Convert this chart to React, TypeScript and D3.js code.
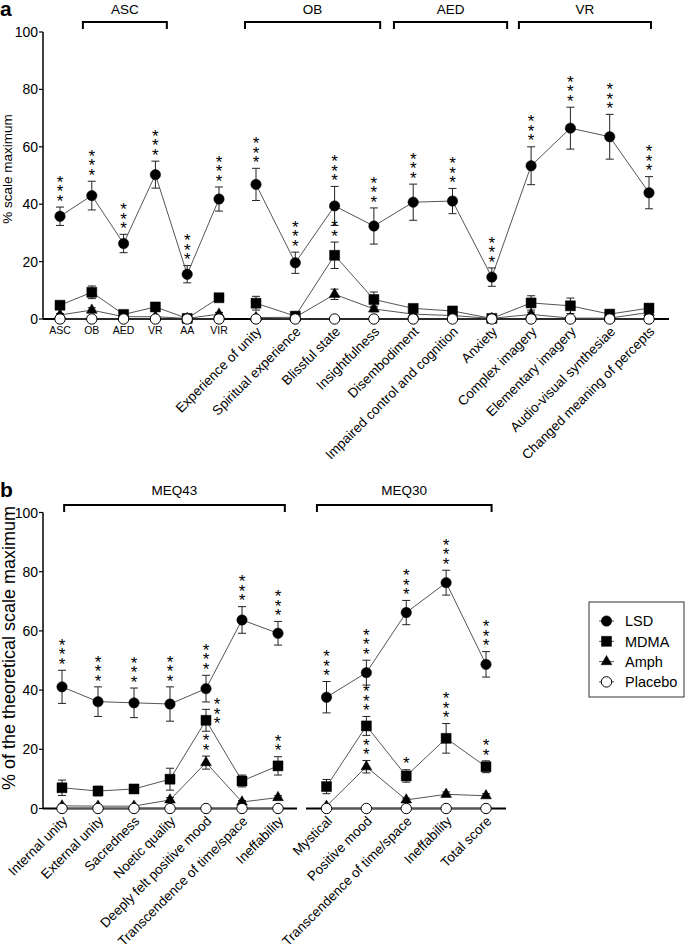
import React from 'react';
import * as d3 from 'd3';

const W = 685, H = 947;
const FONT = "'Liberation Sans', Arial, Helvetica, sans-serif";

// ---------- Panel a data ----------
const catsA1 = ['ASC', 'OB', 'AED', 'VR', 'AA', 'VIR'];
const catsA2 = ['Experience of unity', 'Spiritual experience', 'Blissful state', 'Insightfulness', 'Disembodiment', 'Impaired control and cognition', 'Anxiety', 'Complex imagery', 'Elementary imagery', 'Audio-visual synthesiae', 'Changed meaning of percepts'];
const lsdA = [35.8, 43, 26.3, 50.3, 15.6, 41.8, 46.9, 19.6, 39.4, 32.4, 40.7, 41.1, 14.6, 53.4, 66.5, 63.5, 44];
const lsdAErr = [3.2, 5, 3.2, 4.7, 3, 4.2, 5.6, 3.7, 6.8, 6.3, 6.3, 4.4, 3.2, 6.6, 7.3, 7.8, 5.6];
const mdmaA = [4.8, 9.3, 1.6, 4.2, 0.2, 7.4, 5.5, 1, 22.2, 6.8, 3.7, 2.8, 0.2, 5.6, 4.6, 1.7, 3.8];
const mdmaAErr = [0.8, 2.2, 0.5, 0.8, 0.2, 1, 2.4, 0.5, 4.6, 2.6, 1, 0.8, 0.2, 2.5, 2.7, 0.6, 1];
const amphA = [1.4, 3.1, 0.8, 0.8, 0.2, 1.7, 0.5, 0.6, 8.6, 3.5, 1.7, 1.2, 0.2, 1.6, 0.3, 0.3, 2.3];
const amphAErr = [0.5, 0.8, 0.3, 0.3, 0.2, 0.6, 0.3, 0.3, 1.8, 1, 0.6, 0.5, 0.2, 0.8, 0.3, 0.3, 0.7];
const placeboA = [0, 0, 0, 0, 0, 0, 0, 0, 0, 0, 0, 0, 0, 0, 0, 0, 0];
const placeboAErr = [0, 0, 0, 0, 0, 0, 0, 0, 0, 0, 0, 0, 0, 0, 0, 0, 0];
const sigLsdA = [3, 3, 3, 3, 3, 3, 3, 3, 3, 3, 3, 3, 3, 3, 3, 3, 3];
const sigMdmaA = [0, 0, 0, 0, 0, 0, 0, 0, 2, 0, 0, 0, 0, 0, 0, 0, 0];
const sigAmphA = [0, 0, 0, 0, 0, 0, 0, 0, 0, 0, 0, 0, 0, 0, 0, 0, 0];
const bracketLabelsA = ['ASC', 'OB', 'AED', 'VR'];
const bracketGroupA = [0, 1, 1, 1];
const bracketStartA = [0.72, -0.28, 3.51, 6.69];
const bracketEndA = [3.36, 3.16, 6.39, 10.05];

// ---------- Panel b data ----------
const catsB1 = ['Internal unity', 'External unity', 'Sacredness', 'Noetic quality', 'Deeply felt positive mood', 'Transcendence of time/space', 'Ineffability'];
const catsB2 = ['Mystical', 'Positive mood', 'Transcendence of time/space', 'Ineffability', 'Total score'];
const lsdB = [41.1, 36.1, 35.7, 35.3, 40.5, 63.7, 59.2, 37.6, 45.9, 66.2, 76.3, 48.7];
const lsdBErr = [5.6, 5, 5, 5.8, 4.5, 4.5, 4, 5.3, 4.2, 4.1, 4.2, 4.3];
const mdmaB = [7, 5.9, 6.6, 9.9, 29.8, 9.3, 14.4, 7.4, 27.9, 11, 23.7, 14.1];
const mdmaBErr = [2.6, 1.6, 1.2, 3.7, 3.7, 2, 3.1, 2.4, 3.2, 2.1, 5, 2];
const amphB = [0.9, 0.8, 0.8, 2.9, 15.5, 2.2, 3.7, 0.8, 14.1, 2.9, 4.8, 4.3];
const amphBErr = [0.5, 0.4, 0.4, 0.8, 2.2, 0.5, 0.6, 0.4, 2.1, 0.6, 0.8, 0.7];
const placeboB = [0, 0, 0, 0, 0, 0, 0, 0, 0, 0, 0, 0];
const placeboBErr = [0, 0, 0, 0, 0, 0, 0, 0, 0, 0, 0, 0];
const sigLsdB = [3, 3, 3, 3, 3, 3, 3, 3, 3, 3, 3, 3];
const sigMdmaB = [0, 0, 0, 0, 3, 0, 2, 0, 3, 1, 3, 2];
const sigAmphB = [0, 0, 0, 0, 2, 0, 0, 0, 2, 0, 0, 0];
const bracketLabelsB = ['MEQ43', 'MEQ30'];
const bracketGroupB = [0, 1];
const bracketStartB = [0.06, -0.24];
const bracketEndB = [6.19, 4.14];

const yTicks = [0, 20, 40, 60, 80, 100];
const seriesNames = ['LSD', 'MDMA', 'Amph', 'Placebo'];
const seriesShapes = ['circle', 'square', 'triangle', 'open'];

function symbolPath(shape: string) {
  if (shape === 'square') return d3.symbol(d3.symbolSquare, 100)()!;
  if (shape === 'triangle') return d3.symbol(d3.symbolTriangle, 50)()!;
  return d3.symbol(d3.symbolCircle, 85)()!;
}

function Marker({ shape, x, y }: { shape: string; x: number; y: number }) {
  const open = shape === 'open';
  return (
    <path d={symbolPath(shape)} transform={`translate(${x},${y})`}
      fill={open ? '#fff' : '#000'} stroke="#000" strokeWidth={open ? 1 : 0.5} />
  );
}

type Group = { cats: string[]; range: [number, number]; rotated: boolean };
type SeriesData = { values: number[]; errs: number[]; sig: number[]; shape: string };

function Panel(props: {
  groups: Group[]; series: SeriesData[]; yRange: [number, number]; axisX: number;
  axisSegments: [number, number][]; yTitle: string; yTitleSize: number; yTitleX: number; yTitleY: number;
  letter: string; letterY: number;
  bracketLabels: string[]; bracketGroup: number[]; bracketStart: number[]; bracketEnd: number[];
  bracketY: number; bracketLabelY: number; smallLabelY: number;
}) {
  const { groups, series, yRange, axisX } = props;
  const y = d3.scaleLinear().domain([0, 100]).range(yRange);
  const y0 = y(0);
  const pointScales = groups.map(g => d3.scalePoint<string>().domain(g.cats.map((c, i) => i + '')).range(g.range).padding(0));
  const idxScales = groups.map(g => d3.scaleLinear().domain([0, g.cats.length - 1]).range(g.range));
  const slots: { g: number; i: number; x: number }[] = [];
  groups.forEach((g, gi) => g.cats.forEach((c, i) => slots.push({ g: gi, i, x: pointScales[gi](i + '')! })));
  const line = d3.line<{ x: number; v: number }>().x(d => d.x).y(d => y(d.v));

  const elements: React.ReactNode[] = [];
  series.forEach((s, si) => {
    groups.forEach((g, gi) => {
      const pts = slots.map((sl, k) => ({ ...sl, v: s.values[k] })).filter(p => p.g === gi);
      elements.push(<path key={`l${si}-${gi}`} d={line(pts)!} fill="none" stroke="#555" strokeWidth={1} />);
    });
  });
  series.forEach((s, si) => {
    slots.forEach((sl, k) => {
      const e = s.errs[k];
      if (!e) return;
      const yt = y(s.values[k] + e), yb = y(Math.max(0, s.values[k] - e));
      elements.push(
        <g key={`e${si}-${k}`} stroke="#222" strokeWidth={1}>
          <line x1={sl.x} x2={sl.x} y1={yt} y2={yb} />
          <line x1={sl.x - 4} x2={sl.x + 4} y1={yt} y2={yt} />
          <line x1={sl.x - 4} x2={sl.x + 4} y1={yb} y2={yb} />
        </g>
      );
    });
  });
  series.forEach((s, si) => {
    slots.forEach((sl, k) => {
      elements.push(<Marker key={`m${si}-${k}`} shape={s.shape} x={sl.x} y={y(s.values[k])} />);
    });
  });
  const starFs = 17;
  series.forEach((s, si) => {
    slots.forEach((sl, k) => {
      const n = s.sig[k];
      if (!n) return;
      const errTop = y(s.values[k] + s.errs[k]);
      let base = errTop - 10;
      let sx = sl.x;
      if (si > 0) {
        const lsdY = y(series[0].values[k]);
        const topStar = base - (n - 1) * 9.5;
        if (topStar < lsdY + 9) { sx = sl.x + 11; base = errTop + 10; }
      }
      for (let j = 0; j < n; j++) {
        const cy = base - j * 9.5;
        elements.push(
          <text key={`s${si}-${k}-${j}`} x={sx} y={cy + starFs * 0.57} textAnchor="middle"
            fontSize={starFs} fontFamily={FONT} fill="#000">*</text>
        );
      }
    });
  });

  return (
    <g>
      <text x={0} y={props.letterY} fontSize={21} fontWeight="bold" fontFamily={FONT}>{props.letter}</text>
      <line x1={axisX} x2={axisX} y1={yRange[1]} y2={y0} stroke="#000" strokeWidth={1.5} />
      {yTicks.map(t => (
        <g key={t}>
          <line x1={axisX - 4} x2={axisX} y1={y(t)} y2={y(t)} stroke="#000" strokeWidth={1.2} />
          <text x={axisX - 5} y={y(t)} dy="0.36em" textAnchor="end" fontSize={14} fontFamily={FONT}>{t}</text>
        </g>
      ))}
      <text transform={`translate(${props.yTitleX},${props.yTitleY}) rotate(-90)`} textAnchor="middle"
        fontSize={props.yTitleSize} fontFamily={FONT}>{props.yTitle}</text>
      {props.axisSegments.map((seg, i) => (
        <line key={i} x1={seg[0]} x2={seg[1]} y1={y0} y2={y0} stroke="#000" strokeWidth={2} />
      ))}
      {props.bracketLabels.map((lab, i) => {
        const sc = idxScales[props.bracketGroup[i]];
        const x1 = sc(props.bracketStart[i]), x2 = sc(props.bracketEnd[i]);
        const by = props.bracketY;
        return (
          <g key={lab}>
            <path d={`M${x1},${by + 7}V${by}H${x2}V${by + 7}`} fill="none" stroke="#000" strokeWidth={2} />
            <text x={(x1 + x2) / 2} y={props.bracketLabelY} textAnchor="middle" fontSize={13.5} fontFamily={FONT}>{lab}</text>
          </g>
        );
      })}
      {elements}
      {slots.map((sl, k) => {
        const g = groups[sl.g];
        const label = g.cats[sl.i];
        if (!g.rotated) {
          return <text key={`c${k}`} x={sl.x} y={props.smallLabelY} textAnchor="middle" fontSize={10.5} fontFamily={FONT}>{label}</text>;
        }
        return (
          <text key={`c${k}`} transform={`translate(${sl.x + 3},${y0 + 10}) rotate(-45)`} dy="0.35em"
            textAnchor="end" fontSize={13.5} fontFamily={FONT}>{label}</text>
        );
      })}
    </g>
  );
}

function Legend({ x, y, w, h }: { x: number; y: number; w: number; h: number }) {
  return (
    <g>
      <rect x={x} y={y} width={w} height={h} fill="#fff" stroke="#333" strokeWidth={1} />
      {seriesNames.map((n, i) => {
        const cy = y + 19 + i * 20.3;
        return (
          <g key={n}>
            <line x1={x + 10} x2={x + 25} y1={cy} y2={cy} stroke="#555" strokeWidth={1} />
            <Marker shape={seriesShapes[i]} x={x + 17.5} y={cy} />
            <text x={x + 36} y={cy} dy="0.36em" fontSize={14.5} fontFamily={FONT}>{n}</text>
          </g>
        );
      })}
    </g>
  );
}

export default function App() {
  const seriesA: SeriesData[] = [
    { values: lsdA, errs: lsdAErr, sig: sigLsdA, shape: seriesShapes[0] },
    { values: mdmaA, errs: mdmaAErr, sig: sigMdmaA, shape: seriesShapes[1] },
    { values: amphA, errs: amphAErr, sig: sigAmphA, shape: seriesShapes[2] },
    { values: placeboA, errs: placeboAErr, sig: placeboA.map(() => 0), shape: seriesShapes[3] },
  ];
  const seriesB: SeriesData[] = [
    { values: lsdB, errs: lsdBErr, sig: sigLsdB, shape: seriesShapes[0] },
    { values: mdmaB, errs: mdmaBErr, sig: sigMdmaB, shape: seriesShapes[1] },
    { values: amphB, errs: amphBErr, sig: sigAmphB, shape: seriesShapes[2] },
    { values: placeboB, errs: placeboBErr, sig: placeboB.map(() => 0), shape: seriesShapes[3] },
  ];
  return (
    <svg width={W} height={H} viewBox={`0 0 ${W} ${H}`} style={{ position: 'absolute', left: 0, top: 0, background: '#fff' }}>
      <rect width={W} height={H} fill="#fff" />
      <Panel
        groups={[{ cats: catsA1, range: [60, 219], rotated: false }, { cats: catsA2, range: [256, 649], rotated: true }]}
        series={seriesA} yRange={[319, 32]} axisX={43} axisSegments={[[43, 669]]}
        yTitle="% scale maximum" yTitleSize={13.5} yTitleX={12} yTitleY={169}
        letter="a" letterY={16}
        bracketLabels={bracketLabelsA} bracketGroup={bracketGroupA} bracketStart={bracketStartA} bracketEnd={bracketEndA}
        bracketY={22} bracketLabelY={14} smallLabelY={334}
      />
      <Panel
        groups={[{ cats: catsB1, range: [62, 278], rotated: true }, { cats: catsB2, range: [326.5, 486], rotated: true }]}
        series={seriesB} yRange={[808.5, 512.5]} axisX={43} axisSegments={[[43, 297], [306, 506]]}
        yTitle="% of the theoretical scale maximum" yTitleSize={18} yTitleX={15} yTitleY={648}
        letter="b" letterY={497}
        bracketLabels={bracketLabelsB} bracketGroup={bracketGroupB} bracketStart={bracketStartB} bracketEnd={bracketEndB}
        bracketY={505} bracketLabelY={495} smallLabelY={0}
      />
      <Legend x={589} y={602} w={95} h={95} />
    </svg>
  );
}
